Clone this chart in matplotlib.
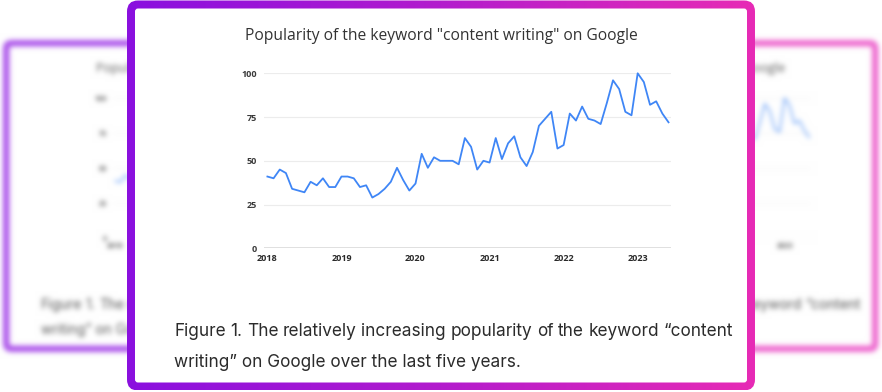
import numpy as np
import matplotlib
matplotlib.use('Agg')
import matplotlib.pyplot as plt
from matplotlib.patches import FancyBboxPatch
from matplotlib.colors import LinearSegmentedColormap

W, H, DPI = 882, 392, 100

TITLE = 'Popularity of the keyword "content writing" on Google'
CAPTION_1 = 'Figure 1. The relatively increasing popularity of the keyword \u201ccontent'
CAPTION_2 = 'writing\u201d on Google over the last five years.'

# monthly interest, Jan 2018 .. Jun 2023
popularity = [41, 40, 45, 43, 34, 33, 32, 38, 36, 40, 35, 35,
              41, 41, 40, 35, 36, 29, 31, 34, 38, 46, 39, 33,
              37, 54, 46, 52, 50, 50, 50, 48, 63, 58, 45, 50,
              49, 63, 51, 60, 64, 52, 47, 55, 70, 74, 78, 57,
              59, 77, 73, 81, 74, 73, 71, 83, 96, 91, 78, 76,
              100, 95, 82, 84, 77, 72]
START_YEAR = 2018
Y_TICKS = [0, 25, 50, 75, 100]
X_TICKS = [2018, 2019, 2020, 2021, 2022, 2023]

LINE_COLOR = '#3f86f6'
PURPLE = '#8a10df'
PINK = '#e72bb5'
BORDER_CMAP = LinearSegmentedColormap.from_list('border', [PURPLE, '#b31ccd', PINK])

CARD_W, CARD_H = 628, 390


def fit_size(fig, text, width, **kw):
    """font size that makes `text` about `width` pixels wide"""
    t = fig.text(0, 0, text, fontsize=10, **kw)
    w = t.get_window_extent(fig.canvas.get_renderer()).width
    t.remove()
    return 10 * width / w


def draw_card(fig, bg, x0, y0, s, edge):
    w, h = CARD_W * s, CARD_H * s
    bw = 8 * s
    outer = FancyBboxPatch((x0, y0), w, h, boxstyle=f'round,pad=0,rounding_size={11 * s}',
                           lw=0, fc=edge if edge != 'gradient' else 'none', zorder=1)
    bg.add_patch(outer)
    if edge == 'gradient':
        grad = np.linspace(0, 1, 256)[None, :]
        im = bg.imshow(grad, cmap=BORDER_CMAP, extent=(x0, x0 + w, y0 + h, y0),
                       aspect='auto', zorder=2, interpolation='bilinear')
        im.set_clip_path(outer)
    inner = FancyBboxPatch((x0 + bw, y0 + bw), w - 2 * bw, h - 2 * bw,
                           boxstyle=f'round,pad=0,rounding_size={3 * s}',
                           lw=0, fc='white', zorder=3)
    bg.add_patch(inner)

    # title
    fs = fit_size(fig, TITLE, 393 * s, family='Open Sans')
    bg.text(x0 + 314 * s, y0 + 35.5 * s, TITLE, fontsize=fs, family='Open Sans',
            color='#333333', ha='center', va='center', zorder=4)

    # chart
    l, r, t, b = x0 + 137 * s, x0 + 544 * s, y0 + 72.8 * s, y0 + 247.8 * s
    ax = fig.add_axes([l / W, 1 - b / H, (r - l) / W, (b - t) / H])
    ax.patch.set_alpha(0)
    months = START_YEAR + np.arange(len(popularity)) / 12
    ax.plot(months, popularity, color=LINE_COLOR, lw=1.3 * s, clip_on=False, zorder=3)
    ax.set_xlim(START_YEAR - 3.4 / 74, START_YEAR + 403.3 / 74)
    ax.set_ylim(0, 100)
    ax.set_yticks(Y_TICKS)
    ax.set_xticks(X_TICKS)
    ax.grid(axis='y', color='#ececec', lw=0.8 * s)
    ax.axhline(0, color='#d8d8d8', lw=1.1 * s, zorder=2)
    for sp in ax.spines.values():
        sp.set_visible(False)
    tfs = fit_size(fig, '2018', 20.7 * s, family='Open Sans', weight='bold')
    ax.tick_params(axis='both', length=0, labelsize=tfs)
    ax.tick_params(axis='y', pad=5 * s, labelcolor='#3a3a3a')
    ax.tick_params(axis='x', pad=4.2 * s, labelcolor='#2a2a2a')
    for lab in ax.get_xticklabels() + ax.get_yticklabels():
        lab.set_family('Open Sans')
        lab.set_weight('bold')

    # caption, first line justified
    cfs = fit_size(fig, CAPTION_2, 348 * s, family='Inter')
    cl, cr = x0 + 47 * s, x0 + 606 * s
    words = CAPTION_1.split(' ')
    rend = fig.canvas.get_renderer()
    widths = []
    for wd in words:
        tt = fig.text(0, 0, wd, fontsize=cfs, family='Inter')
        widths.append(tt.get_window_extent(rend).width)
        tt.remove()
    gap = (cr - cl - sum(widths)) / (len(words) - 1)
    x = cl
    for wd, ww in zip(words, widths):
        bg.text(x, y0 + 331 * s, wd, fontsize=cfs, family='Inter', color='#2b2b2b',
                ha='left', va='center', zorder=4)
        x += ww + gap
    bg.text(cl, y0 + 362 * s, CAPTION_2, fontsize=cfs, family='Inter', color='#2b2b2b',
            ha='left', va='center', zorder=4)


def new_figure():
    fig = plt.figure(figsize=(W / DPI, H / DPI), dpi=DPI)
    fig.patch.set_facecolor('white')
    bg = fig.add_axes([0, 0, 1, 1])
    bg.axis('off')
    return fig, bg


def set_px_limits(bg):
    bg.set_xlim(0, W)
    bg.set_ylim(H, 0)


def blur(img, sigma):
    r = int(3 * sigma)
    k = np.exp(-0.5 * (np.arange(-r, r + 1) / sigma) ** 2)
    k /= k.sum()
    p = np.pad(img, ((r, r), (0, 0), (0, 0)), mode='edge')
    img = sum(k[i] * p[i:i + img.shape[0]] for i in range(2 * r + 1))
    p = np.pad(img, ((0, 0), (r, r), (0, 0)), mode='edge')
    img = sum(k[i] * p[:, i:i + img.shape[1]] for i in range(2 * r + 1))
    return img


# blurred cards behind
fig2, bg2 = new_figure()
set_px_limits(bg2)
draw_card(fig2, bg2, 3, 40, 0.8, '#9a2ee6')
draw_card(fig2, bg2, 376, 40, 0.8, '#ea45c4')
set_px_limits(bg2)
fig2.canvas.draw()
back = np.asarray(fig2.canvas.buffer_rgba())[..., :3].astype(float) / 255
plt.close(fig2)
back = blur(back, 2.6)
back = 1 - (1 - back) * 0.82

fig, bg = new_figure()
set_px_limits(bg)
bg.imshow(back, extent=(0, W, H, 0), aspect='auto', zorder=0)
draw_card(fig, bg, 127, 0.5, 1.0, 'gradient')
set_px_limits(bg)

fig.savefig('out.png', dpi=DPI)
